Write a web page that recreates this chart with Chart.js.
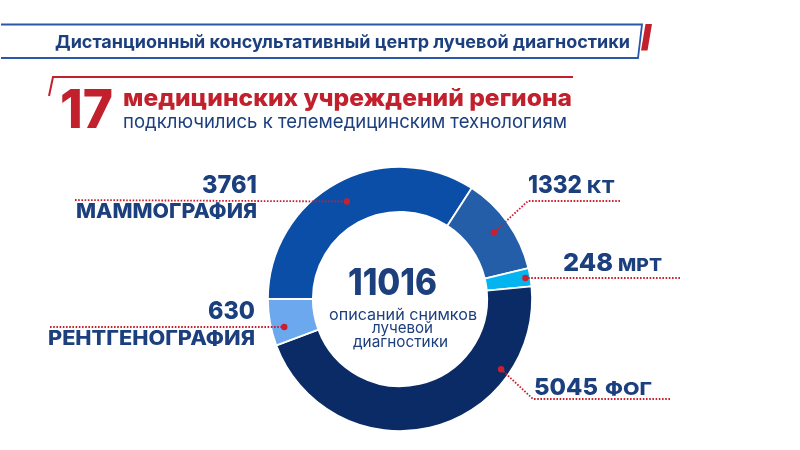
<!DOCTYPE html>
<html lang="ru">
<head>
<meta charset="utf-8">
<script src="https://cdn.jsdelivr.net/npm/chart.js@4.4.1/dist/chart.umd.min.js"></script>
<style>
  html,body{margin:0;padding:0;background:#fff;}
  #wrap{position:relative;width:800px;height:450px;overflow:hidden;background:#fff;font-family:Inter,"Noto Sans",sans-serif;}
  #deco{position:absolute;left:0;top:0;}
  #c{position:absolute;left:0;top:0;}
  .t{position:absolute;white-space:nowrap;line-height:1;display:inline-block;}
</style>
</head>
<body>
<div id="wrap">
  <svg id="deco" width="800" height="450">
    <polygon points="0,24.5 642,24.5 638,58 0,58" fill="#fff" stroke="#2a57a8" stroke-width="1.8"/>
    <rect x="-2" y="23" width="3" height="37" fill="#fff"/>
    <polygon points="645.5,24 652,24 647.5,50.5 641,50.5" fill="#c1202c"/>
    <polyline points="49,96 53,77 573,77" fill="none" stroke="#c1202c" stroke-width="2"/>
  </svg>
  <canvas id="c" width="800" height="450"></canvas>
</div>
<script>
// ---- data ----
const categories = ["МАММОГРАФИЯ", "КТ", "МРТ", "ФОГ", "РЕНТГЕНОГРАФИЯ"];
const values = [3761, 1332, 248, 5045, 630];
const segmentColors = ["#0b4ea8", "#245ea8", "#02b5f0", "#0b2b67", "#6ba8ee"];
const totalLabel = "11016";
const centerLines = ["описаний снимков", "лучевой", "диагностики"];
const titleText = "Дистанционный консультативный центр лучевой диагностики";
const bigNumber = "17";
const headline = "медицинских учреждений региона";
const subline = "подключились к телемедицинским технологиям";

const BLUE = "#1c3f7e", RED = "#c1202c";
const wrap = document.getElementById('wrap');

// text placement helper: x-left, x-right target, baseline, font size, weight, color
function placeText(txt, x1, x2, base, fs, weight, color){
  const d = document.createElement('div');
  d.className = 't';
  d.style.fontSize = fs + 'px';
  d.style.fontWeight = weight;
  d.style.color = color;
  d.textContent = txt;
  const m = document.createElement('span');
  m.style.cssText = 'display:inline-block;width:0;height:0;vertical-align:baseline;';
  d.appendChild(m);
  d.style.left = x1 + 'px';
  d.style.top = '0px';
  wrap.appendChild(d);
  const w = d.getBoundingClientRect().width;
  const bo = m.offsetTop;
  d.style.top = (base - bo) + 'px';
  d.style.transformOrigin = '0 0';
  d.style.transform = 'scaleX(' + ((x2 - x1) / w) + ')';
  return d;
}

// header
placeText(titleText, 55, 630, 47.5, 17.5, 700, BLUE);
placeText(bigNumber, 60, 113, 128, 54, 800, RED);
placeText(headline, 123, 572, 106, 24, 800, RED);
placeText(subline, 123, 567, 127.5, 19, 400, BLUE);

// label layout: number box, name box, leader path, anchor position inside the slice
const labelLayout = [
  {num:[202,257,193,25], name:[76,257,218,20.5], leader:[[75,200]], frac:0.5, rad:0.53},
  {num:[528,582,193,25], name:[587,615,193,18], leader:[[620,201],[528,201]], frac:0.5, rad:0.62},
  {num:[563,613,270.5,25], name:[618,662,270.5,18], leader:[[680,278]], frac:0.5, rad:0.89},
  {num:[534,598,395,23.5], name:[605,652,395,18], leader:[[670,399],[533,399]], frac:0.244, rad:0.8},
  {num:[208,255,319,25], name:[48,255,345,19.5], leader:[[50,327]], frac:0.34, rad:0.71}
];
categories.forEach((c,i)=>{
  const L = labelLayout[i];
  placeText(String(values[i]), L.num[0], L.num[1], L.num[2], L.num[3], 800, BLUE);
  placeText(c, L.name[0], L.name[1], L.name[2], L.name[3], 800, BLUE);
});

// center text
placeText(totalLabel, 348, 437, 295, 37, 800, BLUE);
placeText(centerLines[0], 329, 477, 319.5, 15.5, 400, BLUE);
placeText(centerLines[1], 372, 433, 332.5, 15.5, 400, BLUE);
placeText(centerLines[2], 353, 448, 347, 15.5, 400, BLUE);

// leader plugin
const leaders = {
  id:'leaders',
  afterDatasetsDraw(chart){
    const ctx = chart.ctx;
    const meta = chart.getDatasetMeta(0);
    meta.data.forEach((arc,i)=>{
      const p = arc.getProps(['x','y','startAngle','endAngle','innerRadius','outerRadius'], true);
      const L = labelLayout[i];
      const a = p.startAngle + L.frac*(p.endAngle - p.startAngle);
      const r = p.innerRadius + L.rad*(p.outerRadius - p.innerRadius);
      const px = p.x + Math.cos(a)*r, py = p.y + Math.sin(a)*r;
      ctx.save();
      ctx.strokeStyle = '#c8202f';
      ctx.lineWidth = 1.8;
      ctx.setLineDash([1.6,1.6]);
      ctx.beginPath();
      ctx.moveTo(L.leader[0][0], L.leader[0][1]);
      for(let k=1;k<L.leader.length;k++) ctx.lineTo(L.leader[k][0], L.leader[k][1]);
      ctx.lineTo(px, py);
      ctx.stroke();
      ctx.setLineDash([]);
      ctx.fillStyle = '#c8202f';
      ctx.beginPath();
      ctx.arc(px, py, 3.2, 0, Math.PI*2);
      ctx.fill();
      ctx.restore();
    });
  }
};

new Chart(document.getElementById('c'), {
  type:'doughnut',
  data:{labels:categories, datasets:[{data:values, backgroundColor:segmentColors, borderColor:'#ffffff', borderWidth:1.8}]},
  options:{
    responsive:false, animation:false, rotation:-90, cutout:'66%',
    layout:{padding:{top:166,bottom:18,left:0,right:0}},
    plugins:{legend:{display:false}, tooltip:{enabled:false}}
  },
  plugins:[leaders]
});
</script>
</body>
</html>
